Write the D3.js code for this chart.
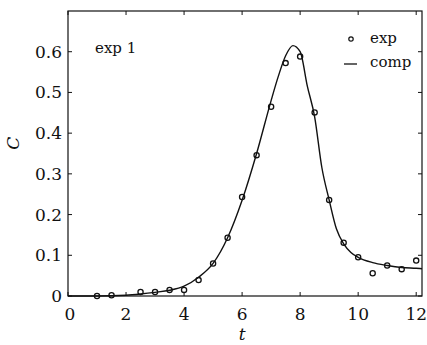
<!DOCTYPE html>
<html>
<head>
  <style>
  body { margin: 0; background: #fff; }
  #chart svg { font-family: "DejaVu Serif", serif; }
  </style>
</head>
<body>
  <script src="https://d3js.org/d3.v7.min.js"></script>
  <div id="chart"></div>
  <script>
    // measured points (exp)
    const expT = [1, 1.5, 2.5, 3, 3.5, 4, 4.5, 5, 5.5, 6, 6.5, 7, 7.5, 8, 8.5, 9, 9.5, 10, 10.5, 11, 11.5, 12];
    const expC = [0, 0.002, 0.01, 0.01, 0.015, 0.015, 0.039, 0.08, 0.143, 0.243, 0.346, 0.465, 0.572, 0.588, 0.451, 0.236, 0.131, 0.095, 0.056, 0.075, 0.066, 0.087];

    // computed curve (comp)
    const compT = [0, 1, 2, 2.5, 3, 3.5, 4, 4.5, 5, 5.5, 6, 6.5, 7, 7.25, 7.5, 7.75, 8, 8.25, 8.5, 8.75, 9, 9.25, 9.5, 9.75, 10, 10.5, 11, 11.5, 12, 12.2];
    const compC = [0, 0, 0.002, 0.005, 0.009, 0.014, 0.024, 0.046, 0.08, 0.143, 0.235, 0.35, 0.48, 0.54, 0.59, 0.615, 0.60, 0.515, 0.44, 0.315, 0.236, 0.165, 0.128, 0.107, 0.095, 0.082, 0.075, 0.07, 0.068, 0.067];

    const xTicks = [0, 2, 4, 6, 8, 10, 12];
    const yTicks = [0, 0.1, 0.2, 0.3, 0.4, 0.5, 0.6];
    const yTickLabels = ['0', '0.1', '0.2', '0.3', '0.4', '0.5', '0.6'];

    const width = 427, height = 345;
    const svg = d3.select('#chart').append('svg')
      .attr('width', width)
      .attr('height', height);

    const x = d3.scaleLinear().domain([0, 12.2]).range([68, 422]);
    const y = d3.scaleLinear().domain([0, 0.70]).range([296, 11]);

    // frame
    svg.append('rect')
      .attr('x', x(0)).attr('y', y(0.70))
      .attr('width', x(12.2) - x(0)).attr('height', y(0) - y(0.70))
      .style('fill', 'none').style('stroke', '#111').style('stroke-width', 1.2);

    // inward ticks on all four sides
    const tl = 4;
    const ticks = svg.append('g').style('stroke', '#111').style('stroke-width', 1);
    xTicks.forEach(t => {
      ticks.append('line').attr('x1', x(t)).attr('x2', x(t)).attr('y1', y(0)).attr('y2', y(0) - tl);
      ticks.append('line').attr('x1', x(t)).attr('x2', x(t)).attr('y1', y(0.70)).attr('y2', y(0.70) + tl);
    });
    yTicks.forEach(v => {
      ticks.append('line').attr('x1', x(0)).attr('x2', x(0) + tl).attr('y1', y(v)).attr('y2', y(v));
      ticks.append('line').attr('x1', x(12.2)).attr('x2', x(12.2) - tl).attr('y1', y(v)).attr('y2', y(v));
    });

    // tick labels
    svg.append('g').selectAll('text')
      .data(xTicks).enter().append('text')
      .attr('x', d => x(d) + (d === 0 ? 2 : 0))
      .attr('y', 320)
      .attr('text-anchor', 'middle')
      .style('font-size', '17px')
      .style('fill', '#111')
      .text(d => d);

    svg.append('g').selectAll('text')
      .data(yTicks).enter().append('text')
      .attr('x', 62)
      .attr('y', d => y(d) + 6)
      .attr('text-anchor', 'end')
      .style('font-size', '17px')
      .style('fill', '#111')
      .text((d, i) => yTickLabels[i]);

    // axis titles
    svg.append('text')
      .attr('transform', 'translate(19,' + y(0.375) + ') rotate(-90)')
      .attr('text-anchor', 'middle')
      .style('font-size', '17px').style('font-style', 'italic').style('fill', '#111')
      .text('C');
    svg.append('text')
      .attr('x', x(6)).attr('y', 340)
      .attr('text-anchor', 'middle')
      .style('font-size', '17px').style('font-style', 'italic').style('fill', '#111')
      .text('t');

    // curve
    const comp = compT.map((t, i) => [t, compC[i]]);
    const line = d3.line()
      .x(d => x(d[0]))
      .y(d => y(d[1]))
      .curve(d3.curveMonotoneX);
    svg.append('path')
      .datum(comp)
      .attr('d', line)
      .style('fill', 'none')
      .style('stroke', '#111')
      .style('stroke-width', 1.4);

    // points
    svg.append('g').selectAll('circle')
      .data(expT.map((t, i) => [t, expC[i]])).enter().append('circle')
      .attr('cx', d => x(d[0]))
      .attr('cy', d => y(d[1]))
      .attr('r', 2.6)
      .style('fill', 'none')
      .style('stroke', '#111')
      .style('stroke-width', 1.3);

    // labels and legend
    svg.append('text')
      .attr('x', 95).attr('y', 53)
      .style('font-size', '15px').style('fill', '#111')
      .text('exp 1');

    const legend = svg.append('g');
    legend.append('circle')
      .attr('cx', 351).attr('cy', 39).attr('r', 2.2)
      .style('fill', 'none').style('stroke', '#111').style('stroke-width', 1.2);
    legend.append('text')
      .attr('x', 370).attr('y', 43)
      .style('font-size', '15px').style('fill', '#111')
      .text('exp');
    legend.append('line')
      .attr('x1', 344).attr('x2', 357).attr('y1', 64).attr('y2', 64)
      .style('stroke', '#111').style('stroke-width', 1.3);
    legend.append('text')
      .attr('x', 370).attr('y', 67)
      .style('font-size', '15px').style('fill', '#111')
      .text('comp');
  </script>
</body>
</html>
